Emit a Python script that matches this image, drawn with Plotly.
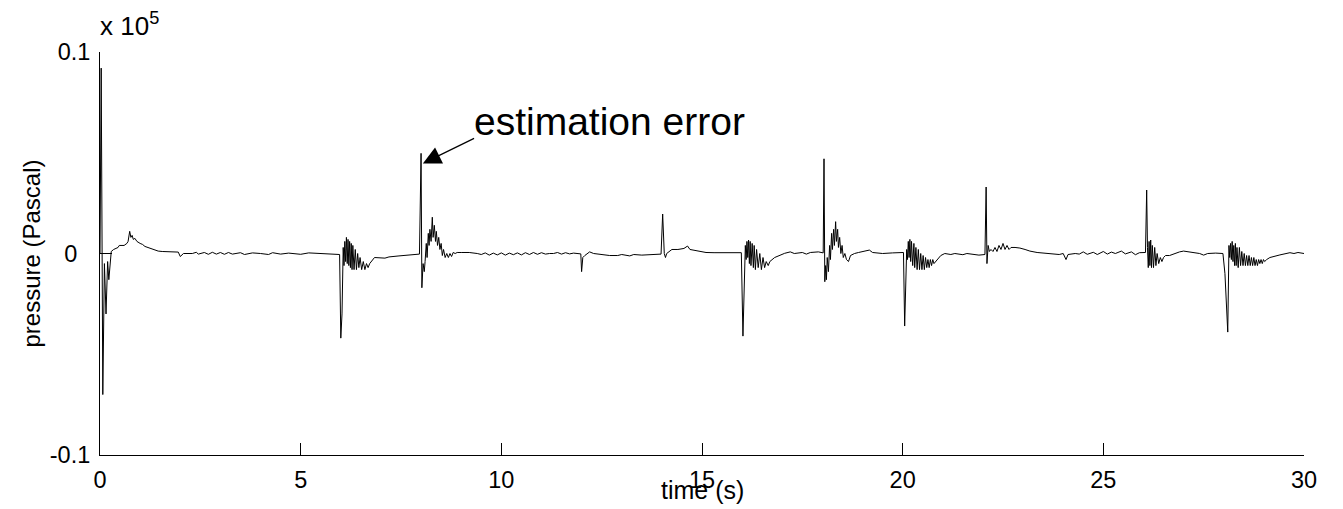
import plotly.graph_objects as go

# ---- data (time in s, pressure in units of 1e5 Pa) ----
t_start = [0.0, 0.03, 0.07, 0.11, 0.15, 0.19, 0.22, 0.28, 0.34, 0.45, 0.48, 0.60, 0.67, 0.70, 0.74, 0.77,
           0.80, 0.83, 0.87, 0.92, 1.0, 1.06, 1.12, 1.25, 1.35, 1.45, 1.55, 1.7, 1.95, 2.0, 2.03, 2.08]
p_start = [0.0, 0.092, -0.070, -0.005, -0.030, -0.004, -0.013, 0.001, 0.002, 0.003, 0.004, 0.004, 0.005, 0.006,
           0.011, 0.008, 0.009, 0.007, 0.0075, 0.006, 0.005, 0.0045, 0.0035, 0.0025, 0.002, 0.0012, 0.001, 0.001,
           0.0007, -0.0015, -0.001, 0.0]

t_quiet1 = [2.3, 2.4, 2.45, 2.6, 2.7, 2.8, 2.9, 3.0, 3.1, 3.2, 3.3, 3.5, 3.6, 3.8, 4.0, 4.2, 4.3, 4.5, 4.7,
            5.0, 5.2, 5.5, 5.8, 5.97]
p_quiet1 = [0.0, 0.0006, -0.0003, 0.0005, -0.0004, 0.0006, -0.0003, 0.0005, -0.0004, 0.0005, -0.0003, 0.0004,
            -0.0005, 0.0003, 0.0, -0.0005, 0.0004, -0.0003, 0.0002, -0.0004, 0.0003, 0.0, -0.0002, -0.0005]

t_ev6 = [6.0, 6.03, 6.06, 6.08, 6.10, 6.12, 6.14, 6.16, 6.18, 6.20, 6.22, 6.24, 6.26, 6.28, 6.30, 6.33, 6.36,
         6.39, 6.42, 6.45, 6.48, 6.52, 6.56, 6.60, 6.64, 6.68, 6.72, 6.84, 7.1, 7.2, 7.45, 7.7, 7.96]
p_ev6 = [-0.042, -0.030, 0.003, -0.006, 0.006, -0.004, 0.008, -0.005, 0.007, -0.006, 0.006, -0.007, 0.005,
         -0.008, 0.004, -0.008, 0.002, -0.008, 0.000, -0.007, -0.002, -0.008, -0.004, -0.008, -0.005, -0.007,
         -0.005, -0.002, -0.0023, -0.0017, -0.0012, -0.0007, -0.0003]

t_ev8 = [8.0, 8.02, 8.05, 8.08, 8.10, 8.13, 8.15, 8.18, 8.20, 8.22, 8.25, 8.28, 8.30, 8.33, 8.36, 8.38, 8.41,
         8.44, 8.47, 8.50, 8.53, 8.56, 8.60, 8.64, 8.68, 8.72, 8.76, 8.80, 8.85, 8.9, 9.0, 9.2, 9.4]
p_ev8 = [0.0497, -0.017, -0.005, -0.009, -0.004, 0.005, -0.002, 0.010, 0.004, 0.012, 0.006, 0.018, 0.008, 0.014,
         0.006, 0.011, 0.004, 0.008, 0.002, 0.005, -0.001, 0.002, -0.002, 0.0, -0.002, 0.0, -0.0015, 0.0005, 0.0,
         0.0005, 0.0005, 0.0005, 0.0]

t_quiet2 = [9.5, 9.6, 9.7, 9.8, 9.9, 10.0, 10.1, 10.2, 10.3, 10.4, 10.5, 10.6, 10.7, 10.8, 10.9, 11.0, 11.1,
            11.2, 11.3, 11.4, 11.5, 11.6, 11.7, 11.8, 11.9, 11.98]
p_quiet2 = [-0.0005, 0.0003, -0.0008, 0.0002, -0.0007, 0.0003, -0.0008, 0.0002, -0.0006, 0.0003, -0.0007, 0.0004,
            -0.0005, 0.0005, -0.0004, 0.0004, -0.0003, 0.0, 0.0, 0.0005, -0.0003, 0.0004, -0.0002, 0.0002, 0.0,
            -0.0002]

t_ev12 = [12.0, 12.03, 12.08, 12.15, 12.2, 12.3, 12.5, 12.7, 12.9, 13.0, 13.2, 13.3, 13.5, 13.8, 13.98, 14.02,
          14.06, 14.09, 14.12, 14.25, 14.4, 14.55, 14.64, 14.7, 14.95, 15.1, 15.3, 15.6, 15.98]
p_ev12 = [-0.009, -0.002, -0.001, 0.0, 0.0008, 0.0, -0.0005, -0.001, -0.001, -0.0005, -0.0012, -0.0005, -0.0008,
          -0.0005, -0.0003, 0.0196, 0.0, -0.002, 0.0, 0.002, 0.002, 0.0025, 0.0037, 0.002, 0.0009, 0.0005, 0.0004,
          0.0004, 0.0004]

t_ev16 = [16.02, 16.05, 16.08, 16.10, 16.12, 16.14, 16.16, 16.18, 16.20, 16.22, 16.25, 16.28, 16.30, 16.33, 16.36,
          16.40, 16.44, 16.48, 16.52, 16.56, 16.60, 16.65, 16.69, 16.81, 16.93, 17.06, 17.2, 17.3, 17.5, 17.6, 17.7,
          17.9, 18.02]
p_ev16 = [-0.041, -0.020, 0.004, -0.003, 0.006, -0.002, 0.0067, -0.005, 0.006, -0.006, 0.005, -0.007, 0.004,
          -0.008, 0.002, -0.007, 0.0, -0.008, -0.002, -0.007, -0.004, -0.006, -0.004, -0.002, -0.0008, 0.0001,
          0.0008, 0.0, 0.0005, -0.0003, 0.0005, 0.0008, 0.0003]

t_ev18 = [18.04, 18.06, 18.08, 18.10, 18.12, 18.15, 18.18, 18.20, 18.23, 18.25, 18.28, 18.30, 18.33, 18.35, 18.38,
          18.40, 18.43, 18.46, 18.49, 18.52, 18.56, 18.60, 18.65, 18.70, 18.8, 18.9, 19.0, 19.17, 19.25, 19.5,
          19.75, 20.02]
p_ev18 = [0.047, -0.014, -0.006, -0.013, -0.002, -0.009, 0.004, -0.003, 0.010, 0.002, 0.012, 0.004, 0.0158,
          0.006, 0.012, 0.003, 0.008, 0.0, 0.004, -0.002, 0.0, -0.003, -0.004, -0.001, 0.0, 0.0005, 0.001, 0.0017,
          0.0005, 0.0, 0.0003, 0.0005]

t_ev20 = [20.05, 20.08, 20.10, 20.12, 20.14, 20.16, 20.18, 20.20, 20.22, 20.25, 20.28, 20.30, 20.33, 20.36, 20.39,
          20.42, 20.45, 20.48, 20.51, 20.54, 20.57, 20.60, 20.63, 20.66, 20.69, 20.72, 20.75, 20.78, 20.82, 20.88,
          20.95, 21.05, 21.2, 21.3, 21.5, 21.6, 21.75, 21.9, 22.05]
p_ev20 = [-0.036, -0.010, 0.002, -0.003, 0.006, -0.002, 0.007, -0.004, 0.006, -0.006, 0.005, -0.007, 0.003,
          -0.008, 0.002, -0.008, 0.0, -0.008, -0.001, -0.008, -0.002, -0.007, -0.003, -0.007, -0.003, -0.006,
          -0.003, -0.005, -0.004, -0.003, -0.001, 0.0, -0.0005, 0.0, -0.0006, 0.0, -0.0004, -0.0008, -0.0005]

t_ev22 = [22.08, 22.1, 22.13, 22.16, 22.2, 22.25, 22.3, 22.35, 22.4, 22.45, 22.5, 22.55, 22.6, 22.65, 22.7, 22.8,
          22.92, 23.05, 23.17, 23.35, 23.55, 23.75, 23.9, 24.0, 24.07, 24.12, 24.3, 24.4, 24.5, 24.6, 24.75, 24.85,
          25.0, 25.1, 25.2, 25.3, 25.45, 25.55, 25.7, 25.8, 25.9, 26.05]
p_ev22 = [0.033, -0.005, 0.004, 0.001, 0.002, 0.001, 0.003, 0.001, 0.004, 0.002, 0.005, 0.002, 0.004, 0.002,
          0.003, 0.003, 0.0027, 0.002, 0.0012, 0.0005, 0.0001, -0.0005, -0.0005, 0.0, -0.003, -0.0005, 0.0, -0.0003,
          0.0008, -0.0004, 0.0006, -0.0005, 0.001, -0.0003, 0.0007, 0.0, 0.0012, -0.0002, 0.0008, -0.0006, 0.0004,
          0.0005]

t_ev26 = [26.08, 26.10, 26.12, 26.14, 26.16, 26.18, 26.20, 26.22, 26.25, 26.28, 26.31, 26.34, 26.38, 26.42, 26.46,
          26.50, 26.55, 26.65, 26.78, 26.9, 27.0, 27.2, 27.4, 27.5, 27.6, 27.8, 27.98]
p_ev26 = [0.0315, 0.003, -0.007, 0.006, -0.006, 0.0067, -0.007, 0.004, -0.007, 0.003, -0.006, 0.0, -0.005, -0.002,
          -0.004, -0.002, -0.001, -0.001, 0.0, 0.0008, 0.0012, 0.0005, 0.0, -0.0008, 0.0, 0.0002, 0.0]

t_ev28 = [28.03, 28.10, 28.13, 28.15, 28.17, 28.19, 28.21, 28.23, 28.25, 28.27, 28.29, 28.31, 28.33, 28.36, 28.39,
          28.42, 28.45, 28.48, 28.51, 28.54, 28.57, 28.60, 28.63, 28.66, 28.69, 28.72, 28.75, 28.78, 28.81, 28.84,
          28.87, 28.90, 28.93, 28.96, 28.99, 29.02, 29.07, 29.15, 29.4, 29.65, 29.75, 29.85, 30.0]
p_ev28 = [-0.010, -0.039, 0.004, -0.002, 0.005, -0.003, 0.006, -0.004, 0.004, -0.006, 0.005, -0.006, 0.003,
          -0.007, 0.003, -0.006, 0.001, -0.006, 0.0, -0.006, -0.001, -0.006, -0.001, -0.006, -0.002, -0.006,
          -0.002, -0.006, -0.003, -0.006, -0.003, -0.005, -0.003, -0.005, -0.003, -0.004, -0.003, -0.002, -0.0007,
          0.0004, 0.0, 0.0005, 0.0]

x_ticks = [0, 5, 10, 15, 20, 25, 30]
y_ticks = [-0.1, 0, 0.1]
y_tick_labels = ["-0.1", "0\u00a0\u00a0", "0.1"]

time_s = (t_start + t_quiet1 + t_ev6 + t_ev8 + t_quiet2 + t_ev12 + t_ev16 + t_ev18 + t_ev20 + t_ev22
          + t_ev26 + t_ev28)
pressure = (p_start + p_quiet1 + p_ev6 + p_ev8 + p_quiet2 + p_ev12 + p_ev16 + p_ev18 + p_ev20 + p_ev22
            + p_ev26 + p_ev28)

FONT = "Liberation Sans, Arial, Helvetica, sans-serif"

fig = go.Figure(go.Scatter(x=time_s, y=pressure, mode="lines",
                           line=dict(color="black", width=1), hoverinfo="skip"))

# page body has an 8px margin, so the figure is sized to fit the 1343x509 window
fig.update_layout(
    width=1335, height=501,
    margin=dict(l=92, r=39, t=44, b=54),
    paper_bgcolor="white", plot_bgcolor="white",
    showlegend=False,
    font=dict(family=FONT, size=24, color="black"),
    xaxis=dict(range=[0, 30], tickvals=x_ticks, ticks="inside", ticklen=12, tickcolor="black",
               tickwidth=1, showline=True, linecolor="black", linewidth=1, showgrid=False,
               zeroline=False, tickfont=dict(size=23.5), ticklabelstandoff=4),
    yaxis=dict(range=[-0.1, 0.1], tickvals=y_ticks, ticktext=y_tick_labels, ticks="inside", ticklen=12,
               tickcolor="black", tickwidth=1, showline=True, linecolor="black", linewidth=1,
               showgrid=False, zeroline=False, tickfont=dict(size=23.5), ticklabelstandoff=4,
               title=dict(text="pressure (Pascal)", font=dict(size=24), standoff=2)),
)

fig.add_annotation(text="x 10<sup>5</sup>", xref="paper", yref="paper", x=0, y=1,
                   xanchor="left", yanchor="bottom", xshift=-2, yshift=9, showarrow=False,
                   font=dict(size=26))
fig.add_annotation(text="time (s)", xref="paper", yref="paper", x=0.5, y=-0.0868,
                   xanchor="center", yanchor="middle", showarrow=False, font=dict(size=25))
fig.add_annotation(text="\u00a0", x=8.045, y=0.0447, xref="x", yref="y", ax=51.7, ay=-25.3,
                   showarrow=True, arrowhead=2, arrowsize=3, arrowwidth=1.2, arrowcolor="black",
                   font=dict(size=1), borderpad=0)
fig.add_annotation(text="estimation error", x=9.28, y=0.0657, xref="x", yref="y",
                   xanchor="left", yanchor="middle", showarrow=False, font=dict(size=39))

fig.write_html("out.html")
